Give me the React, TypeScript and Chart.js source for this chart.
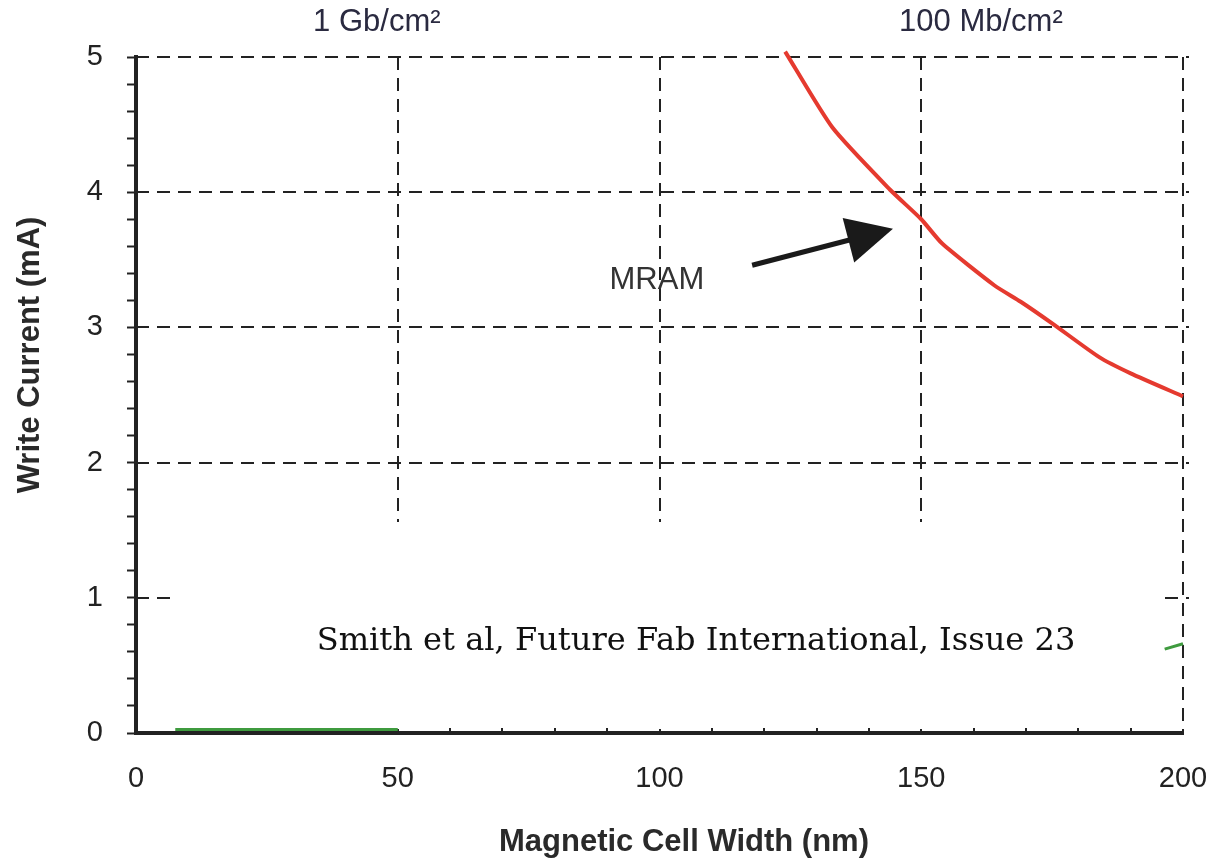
import React, { useEffect, useRef } from "react";
import { Chart, registerables } from "chart.js";

Chart.register(...registerables);

// Magnetic cell width (nm) vs write current (mA)
const mramWidth = [124, 133, 144, 150, 154, 164, 169, 175, 184, 190, 200];
const mramCurrent = [5.04, 4.48, 4.02, 3.8, 3.62, 3.31, 3.19, 3.03, 2.78, 2.66, 2.49];

// Visible fragments of the second (green) curve
const sttWidth = [7.5, 50, 120, 196.5, 200];
const sttCurrent: (number | null)[] = [0.025, 0.025, null, 0.62, 0.66];

const xTickValues = [0, 50, 100, 150, 200];
const yTickValues = [0, 1, 2, 3, 4, 5];
const xGridValues = [50, 100, 150, 200];
const yGridValues = [1, 2, 3, 4, 5];

const topLabels = ["1 Gb/cm²", "100 Mb/cm²"];
const topLabelX = [46, 161.4];

const annotationText = "MRAM";
const annotationPos = { x: 99.5, y: 3.35 };
const arrowStart = { x: 117.7, y: 3.46 };
const arrowTip = { x: 144.6, y: 3.73 };

const citation = "Smith et al, Future Fab International, Issue 23";
const xTitle = "Magnetic Cell Width (nm)";
const yTitle = "Write Current (mA)";

const SANS = "'Liberation Sans', Arial, Helvetica, sans-serif";
const SERIF = "'DejaVu Serif', 'Liberation Serif', serif";

const decorPlugin = {
  id: "decor",
  beforeDatasetsDraw(chart: any) {
    const { ctx, chartArea, scales } = chart;
    const xs = scales.x;
    const ys = scales.y;
    ctx.save();
    ctx.strokeStyle = "#222";
    ctx.lineWidth = 2;
    ctx.setLineDash([13, 8]);
    for (const v of xGridValues) {
      const px = Math.round(xs.getPixelForValue(v));
      ctx.beginPath();
      ctx.moveTo(px, chartArea.top);
      ctx.lineTo(px, chartArea.bottom);
      ctx.stroke();
    }
    for (const v of yGridValues) {
      const py = Math.round(ys.getPixelForValue(v));
      ctx.beginPath();
      ctx.moveTo(chartArea.left, py);
      ctx.lineTo(chartArea.right + 6, py);
      ctx.stroke();
    }
    ctx.setLineDash([]);
    // small inward minor ticks on the bottom axis
    ctx.lineWidth = 2;
    for (let v = 10; v < 200; v += 10) {
      if (v % 50 === 0) continue;
      const px = Math.round(xs.getPixelForValue(v));
      ctx.beginPath();
      ctx.moveTo(px, chartArea.bottom);
      ctx.lineTo(px, chartArea.bottom - 5);
      ctx.stroke();
    }
    // white citation box covering part of the plot
    ctx.fillStyle = "#ffffff";
    ctx.fillRect(172, 522, 1163 - 172, 727 - 522);
    ctx.restore();
  },
  afterDatasetsDraw(chart: any) {
    const { ctx, scales } = chart;
    const xs = scales.x;
    const ys = scales.y;
    ctx.save();
    // top density labels
    ctx.fillStyle = "#2a2a40";
    ctx.font = `31px ${SANS}`;
    ctx.textAlign = "center";
    ctx.textBaseline = "middle";
    topLabels.forEach((t, i) => {
      ctx.fillText(t, xs.getPixelForValue(topLabelX[i]), 22);
    });
    // MRAM label
    ctx.font = `31px ${SANS}`;
    ctx.fillStyle = "#333";
    ctx.fillText(annotationText, xs.getPixelForValue(annotationPos.x), ys.getPixelForValue(annotationPos.y));
    // arrow
    const sx = xs.getPixelForValue(arrowStart.x);
    const sy = ys.getPixelForValue(arrowStart.y);
    const tx = xs.getPixelForValue(arrowTip.x);
    const ty = ys.getPixelForValue(arrowTip.y);
    const ang = Math.atan2(ty - sy, tx - sx);
    const headLen = 46;
    const headHalf = 23;
    const bx = tx - headLen * Math.cos(ang);
    const by = ty - headLen * Math.sin(ang);
    ctx.strokeStyle = "#1a1a1a";
    ctx.fillStyle = "#1a1a1a";
    ctx.lineWidth = 5;
    ctx.beginPath();
    ctx.moveTo(sx, sy);
    ctx.lineTo(bx + 4 * Math.cos(ang), by + 4 * Math.sin(ang));
    ctx.stroke();
    ctx.beginPath();
    ctx.moveTo(tx, ty);
    ctx.lineTo(bx + headHalf * Math.sin(ang), by - headHalf * Math.cos(ang));
    ctx.lineTo(bx - headHalf * Math.sin(ang), by + headHalf * Math.cos(ang));
    ctx.closePath();
    ctx.fill();
    // citation, fitted to the reference width
    ctx.fillStyle = "#111";
    ctx.font = `32px ${SERIF}`;
    const w = ctx.measureText(citation).width;
    const size = Math.max(20, Math.min(48, (32 * 760) / w));
    ctx.font = `${size.toFixed(1)}px ${SERIF}`;
    ctx.textBaseline = "alphabetic";
    ctx.textAlign = "center";
    ctx.fillText(citation, 696, 650);
    // axis titles
    ctx.fillStyle = "#2a2a2a";
    ctx.font = `bold 31px ${SANS}`;
    ctx.textBaseline = "middle";
    ctx.fillText(xTitle, 684, 842);
    ctx.save();
    ctx.translate(30, 355);
    ctx.rotate(-Math.PI / 2);
    ctx.font = `bold 31px ${SANS}`;
    ctx.fillText(yTitle, 0, 0);
    ctx.restore();
    ctx.restore();
  },
};

export default function App() {
  const ref = useRef<HTMLCanvasElement | null>(null);
  useEffect(() => {
    if (!ref.current) return;
    const chart = new Chart(ref.current, {
      type: "line",
      data: {
        datasets: [
          {
            label: "MRAM",
            data: mramWidth.map((x, i) => ({ x, y: mramCurrent[i] })),
            borderColor: "#e53a2f",
            borderWidth: 4,
            pointRadius: 0,
            tension: 0.2,
            clip: 8,
          },
          {
            label: "STT-RAM",
            data: sttWidth.map((x, i) => ({ x, y: sttCurrent[i] })),
            borderColor: "#3f9b3f",
            borderWidth: 3,
            pointRadius: 0,
            spanGaps: false,
            clip: 8,
          },
        ],
      },
      options: {
        animation: false,
        responsive: false,
        events: [],
        layout: { padding: { top: 57, right: 31, left: 0, bottom: 0 } },
        plugins: {
          legend: { display: false },
          tooltip: { enabled: false },
          title: { display: false },
        },
        scales: {
          x: {
            type: "linear",
            min: 0,
            max: 200,
            afterFit: (s: any) => {
              s.height = 127;
              s.paddingLeft = 0;
              s.paddingRight = 0;
            },
            afterBuildTicks: (s: any) => {
              s.ticks = xTickValues.map((v) => ({ value: v }));
            },
            ticks: {
              font: { family: SANS, size: 29 },
              color: "#222",
              padding: 29,
              maxRotation: 0,
              autoSkip: false,
            },
            grid: { display: false, drawTicks: false },
            border: { display: true, color: "#222", width: 4 },
          },
          y: {
            type: "linear",
            min: 0,
            max: 5,
            afterFit: (s: any) => {
              s.width = 136;
              s.paddingTop = 0;
              s.paddingBottom = 0;
            },
            afterBuildTicks: (s: any) => {
              const arr: any[] = [];
              for (let i = 0; i <= 25; i++) arr.push({ value: Math.round(i * 2) / 10 });
              s.ticks = arr;
            },
            ticks: {
              font: { family: SANS, size: 29 },
              color: "#222",
              padding: 24,
              autoSkip: false,
              callback: (v: any) => {
                const n = Number(v);
                return yTickValues.includes(n) ? String(n) : "";
              },
            },
            grid: {
              display: true,
              drawOnChartArea: false,
              drawTicks: true,
              tickLength: 9,
              tickWidth: 2,
              tickColor: "#222",
            },
            border: { display: true, color: "#222", width: 4 },
          },
        },
      },
      plugins: [decorPlugin],
    } as any);
    return () => chart.destroy();
  }, []);
  return (
    <div style={{ position: "absolute", left: 0, top: 0, width: 1214, height: 860, background: "#fff" }}>
      <canvas ref={ref} width={1214} height={860} />
    </div>
  );
}
